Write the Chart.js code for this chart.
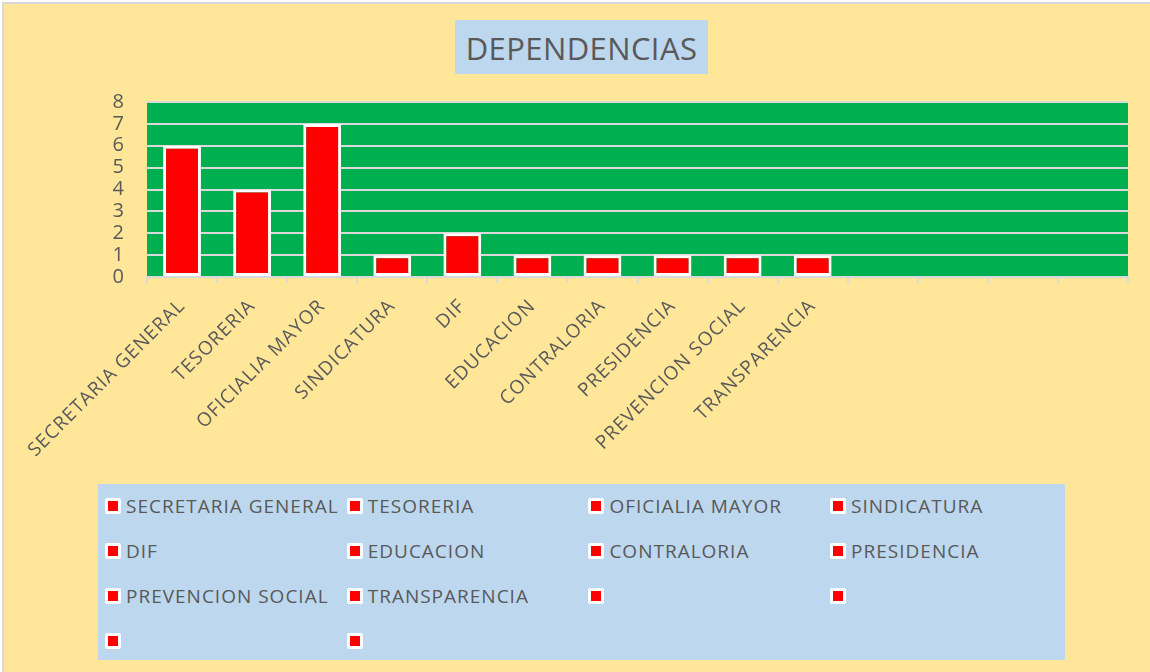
<!DOCTYPE html>
<html>
<head>
<meta charset="utf-8">
<script src="https://cdn.jsdelivr.net/npm/chart.js@4.4.1/dist/chart.umd.min.js"></script>
<style>
  html, body { margin: 0; padding: 0; background: #ffffff; }
  #frame { position: absolute; left: 2px; top: 2px; width: 1148px; height: 670px;
           background: #FFE699; border-top: 2px solid #D9D9D9; border-left: 2px solid #D9D9D9; box-sizing: border-box; }
  #wrap { position: absolute; left: 0; top: 0; width: 1150px; height: 672px; }
  #title { position: absolute; left: 455px; top: 20px; width: 253px; height: 54px; background: #BDD7EE;
           color: #595959; font-family: "Open Sans", sans-serif; font-size: 31px; letter-spacing: 0.4px; line-height: 56px; text-align: center; }
  #legend { position: absolute; left: 98px; top: 484px; width: 967px; height: 176px; background: #BDD7EE;
            font-family: "Open Sans", sans-serif; color: #595959; font-size: 19px; letter-spacing: 1px; }
  .item { position: absolute; height: 24px; line-height: 24px; white-space: nowrap; }
  .mk { position: absolute; left: 0; top: 4px; width: 16px; height: 16px; background: #fff; border-radius: 2px; }
  .mk i { position: absolute; left: 3px; top: 3px; width: 10px; height: 10px; background: #FF0000; }
  .tx { position: absolute; left: 21px; top: 0; }
</style>
</head>
<body>
<div id="frame"></div>
<div id="wrap"><canvas id="c" width="1150" height="672"></canvas></div>
<div id="title">DEPENDENCIAS</div>
<div id="legend"></div>
<script>
const categories = ["SECRETARIA GENERAL", "TESORERIA", "OFICIALIA MAYOR", "SINDICATURA", "DIF",
  "EDUCACION", "CONTRALORIA", "PRESIDENCIA", "PREVENCION SOCIAL", "TRANSPARENCIA", "", "", "", ""];
const values = [6, 4, 7, 1, 2, 1, 1, 1, 1, 1, null, null, null, null];
const yTicks = [0, 1, 2, 3, 4, 5, 6, 7, 8];

const plotBg = {
  id: 'plotBg',
  beforeDraw(chart) {
    const { ctx, chartArea: a } = chart;
    ctx.save();
    ctx.fillStyle = '#00B050';
    ctx.fillRect(a.left, a.top, a.right - a.left, a.bottom - a.top);
    ctx.restore();
  }
};

const xSpacing = {
  id: 'xSpacing',
  beforeDraw(chart) { chart.ctx.letterSpacing = '1px'; }
};

new Chart(document.getElementById('c'), {
  type: 'bar',
  data: {
    labels: categories,
    datasets: [{
      data: values,
      backgroundColor: '#FF0000',
      borderColor: '#FFFFFF',
      borderWidth: 3,
      borderSkipped: false,
      categoryPercentage: 1,
      barPercentage: 0.54
    }]
  },
  options: {
    responsive: false,
    animation: false,
    events: [],
    layout: { padding: { left: 0, right: 22, top: 102, bottom: 195 } },
    plugins: { legend: { display: false }, tooltip: { enabled: false }, title: { display: false } },
    scales: {
      x: {
        afterFit(s) { s.height = 200; },
        grid: { offset: true, drawOnChartArea: false, drawTicks: true, tickLength: 6, color: '#D9D9D9', lineWidth: 2 },
        border: { display: true, color: '#D9D9D9', width: 2 },
        ticks: { autoSkip: false, maxRotation: 45, minRotation: 45, color: '#595959', padding: 12,
                 font: { family: 'Open Sans', size: 19 } }
      },
      y: {
        min: 0, max: 8,
        afterFit(s) { s.width = 147; },
        afterBuildTicks(s) { s.ticks = yTicks.map(v => ({ value: v })); },
        grid: { drawTicks: false, color: '#D9D9D9', lineWidth: 2 },
        border: { display: false },
        ticks: { autoSkip: false, stepSize: 1, color: '#595959', padding: 22, font: { family: 'Open Sans', size: 20 } }
      }
    }
  },
  plugins: [plotBg, xSpacing]
});

const leg = document.getElementById('legend');
categories.forEach((name, i) => {
  const col = i % 4, row = Math.floor(i / 4);
  const d = document.createElement('div');
  d.className = 'item';
  d.style.left = (7 + col * 241.7) + 'px';
  d.style.top = (10 + row * 45) + 'px';
  d.innerHTML = '<span class="mk"><i></i></span><span class="tx"></span>';
  d.querySelector('.tx').textContent = name;
  leg.appendChild(d);
});
</script>
</body>
</html>
